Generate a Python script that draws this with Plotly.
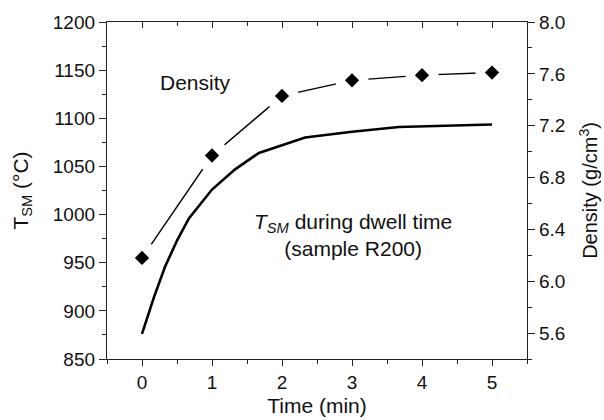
import plotly.graph_objects as go

# TSM temperature curve during dwell time
tsm_time = [0, 0.17, 0.33, 0.5, 0.67, 1.0, 1.33, 1.67, 2.0, 2.33, 3.0, 3.67, 5.0]
tsm_temp = [876, 914, 946, 973, 996, 1026, 1047, 1064, 1072, 1080, 1086, 1091, 1093.5]

# Density measurements
dens_time = [0, 1, 2, 3, 4, 5]
dens_val = [6.18, 6.97, 7.43, 7.55, 7.59, 7.61]

FONT = "Liberation Sans, Arial, sans-serif"
AX = "#222222"
fs = 19

fig = go.Figure()

fig.add_trace(go.Scatter(x=tsm_time, y=tsm_temp, mode="lines",
                         line=dict(color="black", width=2.6), showlegend=False,
                         xaxis="x", yaxis="y"))
# invisible trace for the top (mirrored) axis
fig.add_trace(go.Scatter(x=tsm_time, y=tsm_temp, mode="lines",
                         line=dict(color="rgba(0,0,0,0)", width=0), showlegend=False,
                         hoverinfo="skip", xaxis="x2", yaxis="y"))
# density line
fig.add_trace(go.Scatter(x=dens_time, y=dens_val, mode="lines",
                         line=dict(color="black", width=1.4), showlegend=False,
                         xaxis="x", yaxis="y2"))
# white gaps around symbols
fig.add_trace(go.Scatter(x=dens_time, y=dens_val, mode="markers",
                         marker=dict(symbol="circle", size=33, color="white",
                                     line=dict(width=0)), showlegend=False,
                         hoverinfo="skip", xaxis="x", yaxis="y2"))
fig.add_trace(go.Scatter(x=dens_time, y=dens_val, mode="markers",
                         marker=dict(symbol="diamond", size=11, color="black",
                                     line=dict(width=0)), showlegend=False,
                         xaxis="x", yaxis="y2"))

common_font = dict(family=FONT, size=fs, color="#111111")
title_font = dict(family=FONT, size=21, color="#111111")

fig.update_layout(
    width=604, height=420,
    margin=dict(l=107, r=77, t=22, b=61),
    paper_bgcolor="white", plot_bgcolor="white",
    font=common_font,
    xaxis=dict(range=[-0.5, 5.5], tick0=0, dtick=1, ticks="outside", ticklen=6,
               tickwidth=1.2, tickcolor=AX, showline=True, linecolor=AX, linewidth=1.3,
               showgrid=False, zeroline=False, tickfont=common_font, automargin=False,
               minor=dict(dtick=0.5, ticks="outside", ticklen=4, tickwidth=1.1, tickcolor=AX),
               title=dict(text="Time (min)", font=title_font, standoff=6)),
    xaxis2=dict(range=[-0.5, 5.5], overlaying="x", side="top", tick0=0, dtick=1,
                ticks="inside", ticklen=6, tickwidth=1.2, tickcolor=AX, showline=True,
                linecolor=AX, linewidth=1.3, showgrid=False, zeroline=False,
                showticklabels=False, automargin=False,
                minor=dict(dtick=0.5, ticks="inside", ticklen=4, tickwidth=1.1, tickcolor=AX)),
    yaxis=dict(range=[850, 1200], tick0=850, dtick=50, ticks="outside", ticklen=7,
               tickwidth=1.2, tickcolor=AX, showline=True, linecolor=AX, linewidth=1.3,
               showgrid=False, zeroline=False, tickfont=common_font, automargin=False,
               minor=dict(dtick=25, ticks="outside", ticklen=4, tickwidth=1.1, tickcolor=AX),
               title=dict(text="T<sub>SM</sub> (°C)", font=title_font, standoff=18)),
    yaxis2=dict(range=[5.4, 8.0], overlaying="y", side="right", tick0=5.6, dtick=0.4,
                tickformat=".1f", ticks="outside", ticklen=7, tickwidth=1.2, tickcolor=AX,
                showline=True, linecolor=AX, linewidth=1.3, showgrid=False, zeroline=False,
                tickfont=common_font, automargin=False,
                minor=dict(dtick=0.2, tick0=5.4, ticks="outside", ticklen=4, tickwidth=1.1, tickcolor=AX),
                title=dict(text="Density (g/cm<sup>3</sup>)", font=dict(family=FONT, size=20, color="#111111"),
                           standoff=18)),
    annotations=[
        dict(x=0.76, y=1137, xref="x", yref="y", text="Density", showarrow=False,
             font=dict(family=FONT, size=21, color="#111111")),
        dict(x=3.02, y=979, xref="x", yref="y", showarrow=False, align="center",
             text="<i>T<sub>SM</sub></i> during dwell time<br>(sample R200)",
             font=dict(family=FONT, size=21, color="#111111")),
    ],
)

fig.write_html("out.html")
